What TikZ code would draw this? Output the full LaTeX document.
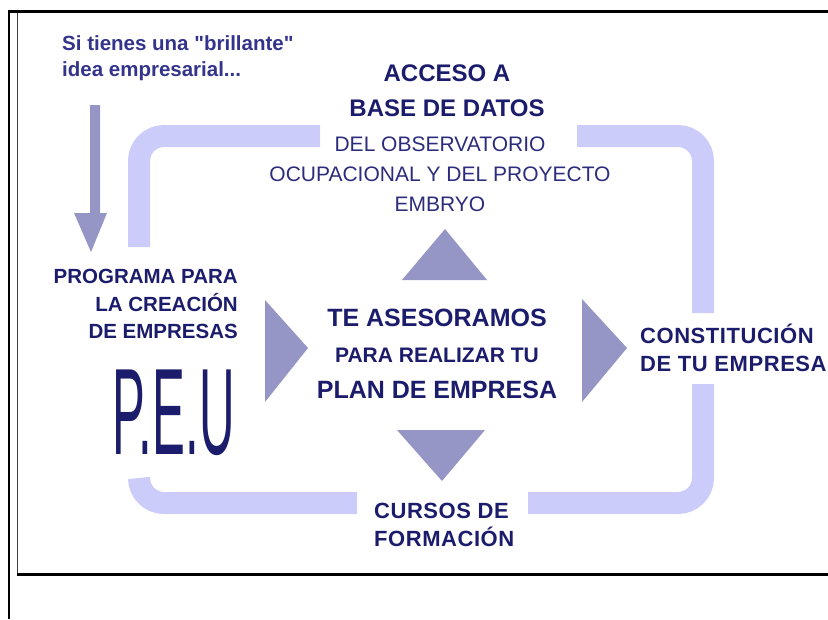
\documentclass[tikz,border=0pt]{standalone}
\usepackage{fontspec}
\setmainfont[Ligatures=TeXOff]{Liberation Sans}
\usepackage{tikz}
\definecolor{bandcol}{RGB}{204,204,250}
\definecolor{tricol}{RGB}{150,150,198}
\definecolor{navy}{RGB}{28,28,108}
\definecolor{ideacol}{RGB}{52,52,140}
\definecolor{subcol}{RGB}{44,44,125}

\begin{document}
\begin{tikzpicture}[x=1pt,y=-1pt,
    band/.style={draw=bandcol,line width=22pt,rounded corners=25pt},
    tri/.style={fill=tricol},
    head/.style={text=navy,inner sep=0pt}]
  \useasboundingbox (0,0) rectangle (828,619);
  \clip (0,0) rectangle (828,619);
  \draw[line width=2pt] (9,10) -- (9,619);
  \draw[line width=3pt] (8,11.5) -- (828,11.5);
  \draw[line width=1.5pt,black!75] (17.7,13) -- (17.7,575);
  \draw[line width=2.5pt] (16.9,574.5) -- (828,574.5);

  \draw[band] (139,247) -- (139,136) -- (320,136);
  \draw[band] (577,136) -- (703,136) -- (703,313);
  \draw[band] (703,384) -- (703,503) -- (528,503);
  \draw[band] (357,503) -- (139,503) -- (139,478);

  \fill[tri] (90,105) -- (100,105) -- (100,213) -- (107,213) -- (91,252) -- (74,213) -- (90,213) -- cycle;
  \fill[tri] (402,280) -- (487,280) -- (445,229) -- cycle;
  \fill[tri] (397,430) -- (485,430) -- (442,481) -- cycle;
  \fill[tri] (265,300) -- (308,348) -- (265,402) -- cycle;
  \fill[tri] (582,299) -- (627,348) -- (582,402) -- cycle;

  \node[head,text=ideacol,anchor=west,align=left,font=\bfseries\fontsize{20.5}{26}\selectfont] (idea) at (62,58) {Si tienes una "brillante"\\idea empresarial...};
  \node[head,align=center,font=\bfseries\fontsize{24}{35}\selectfont] (acceso) at (447,91) {ACCESO A\\BASE DE DATOS};
  \node[head,text=subcol,align=center,font=\fontsize{21}{30}\selectfont] (datos) at (440,174) {DEL OBSERVATORIO\\OCUPACIONAL Y DEL PROYECTO\\EMBRYO};
  \node[head,anchor=east,align=right,font=\bfseries\fontsize{20.5}{27.5}\selectfont] (programa) at (238,304) {PROGRAMA PARA\\LA CREACIÓN\\DE EMPRESAS};
  \node[head,font=\fontsize{123}{123}\selectfont] (peu) at (173.5,412.5) {\scalebox{0.4}[1]{P.E.U}};
  \node[head,align=center,font=\bfseries\fontsize{25}{36}\selectfont] (asesoramos) at (437,353.5) {TE ASESORAMOS\\{\fontsize{21}{36}\selectfont PARA REALIZAR TU}\\PLAN DE EMPRESA};
  \node[head,anchor=west,align=left,font=\bfseries\fontsize{22}{28}\selectfont\addfontfeature{LetterSpace=2.5}] (constitucion) at (640,348) {CONSTITUCIÓN\\DE TU EMPRESA};
  \node[head,anchor=west,align=left,font=\bfseries\fontsize{22}{28}\selectfont\addfontfeature{LetterSpace=2.5}] (cursos) at (374,524.5) {CURSOS DE\\FORMACIÓN};
\end{tikzpicture}
\end{document}
